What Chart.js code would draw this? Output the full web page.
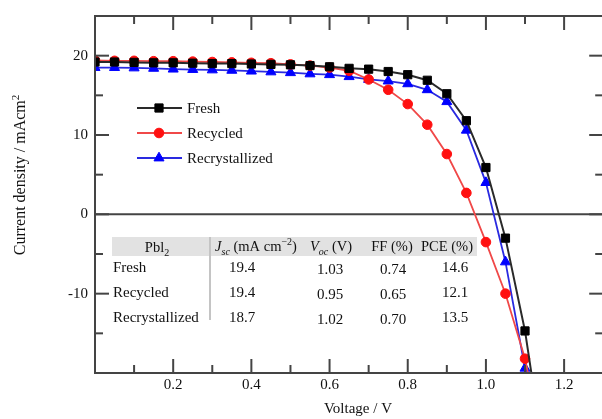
<!DOCTYPE html>
<html lang="en">
<head>
<meta charset="UTF-8">
<title>J-V curves</title>
<script src="https://cdn.jsdelivr.net/npm/chart.js"></script>
<style>
  body { margin: 0; overflow: hidden; background: #fff; }
</style>
</head>
<body>
<canvas id="jv" width="610" height="419"></canvas>
<script>
// voltage steps (V) and current density (mA cm-2)
const voltage = [0, 0.05, 0.1, 0.15, 0.2, 0.25, 0.3, 0.35, 0.4, 0.45, 0.5, 0.55,
                 0.6, 0.65, 0.7, 0.75, 0.8, 0.85, 0.9, 0.95, 1.0, 1.05, 1.1, 1.15];
const fresh = [19.2, 19.2, 19.15, 19.1, 19.1, 19.05, 19.0, 19.0, 18.95, 18.9, 18.85, 18.75,
               18.6, 18.4, 18.3, 18.0, 17.6, 16.9, 15.2, 11.8, 5.9, -3.0, -14.7, -31];
const recycled = [19.4, 19.35, 19.35, 19.3, 19.3, 19.25, 19.2, 19.15, 19.1, 19.05, 18.9, 18.75,
                  18.5, 18.1, 17.0, 15.7, 13.9, 11.3, 7.6, 2.7, -3.5, -10.0, -18.2, -30];
const recrystallized = [18.5, 18.5, 18.45, 18.4, 18.3, 18.25, 18.2, 18.15, 18.05, 17.95, 17.85, 17.7,
                        17.6, 17.35, 17.0, 16.8, 16.45, 15.7, 14.2, 10.6, 4.0, -6.0, -19.4, -33];

const xTickLabels = ['0.2', '0.4', '0.6', '0.8', '1.0', '1.2'];
const yTickLabels = ['20', '10', '0', '-10'];

// inset table
const samples = ['Fresh', 'Recycled', 'Recrystallized'];
const jsc = ['19.4', '19.4', '18.7'];
const voc = ['1.03', '0.95', '1.02'];
const ff = ['0.74', '0.65', '0.70'];
const pce = ['14.6', '12.1', '13.5'];

const SERIF = '"Liberation Serif", "Times New Roman", serif';

const styles = [
  { color: '#000000', line: '#2a2a2a', shape: 'rect', r: 5.8, w: 2 },
  { color: '#ff1010', line: '#f04848', shape: 'circle', r: 4.8, w: 1.8 },
  { color: '#0000ff', line: '#2a2ae0', shape: 'triangle', r: 5.8, w: 1.8 }
];
const names = ['Fresh', 'Recycled', 'Recrystallized'];
const values = [fresh, recycled, recrystallized];

const datasets = values.map((arr, k) => ({
  label: names[k],
  data: voltage.map((v, i) => ({ x: v, y: arr[i] })),
  borderColor: styles[k].line,
  borderWidth: styles[k].w,
  backgroundColor: styles[k].color,
  pointBackgroundColor: styles[k].color,
  pointBorderColor: styles[k].color,
  pointBorderWidth: 1,
  pointStyle: styles[k].shape,
  pointRadius: styles[k].r,
  tension: 0
}));

function seg(ctx, x1, y1, x2, y2) {
  ctx.beginPath(); ctx.moveTo(x1, y1); ctx.lineTo(x2, y2); ctx.stroke();
}

// draw a run of text pieces: {t, it, sub, sup}
function rich(ctx, parts, x, y, size, align) {
  const fontOf = p => (p.it ? 'italic ' : '') + (p.sub || p.sup ? Math.round(size * 0.7) : size) + 'px ' + SERIF;
  let total = 0;
  parts.forEach(p => { ctx.font = fontOf(p); total += ctx.measureText(p.t).width; });
  let cx = align === 'center' ? x - total / 2 : x;
  ctx.textAlign = 'left';
  ctx.textBaseline = 'alphabetic';
  parts.forEach(p => {
    ctx.font = fontOf(p);
    const dy = p.sub ? size * 0.25 : p.sup ? -size * 0.4 : 0;
    ctx.fillText(p.t, cx, y + dy);
    cx += ctx.measureText(p.t).width;
  });
}

const zeroLine = {
  id: 'zeroLine',
  beforeDatasetsDraw(chart) {
    const { ctx, chartArea: a, scales: { y } } = chart;
    const py = y.getPixelForValue(0);
    ctx.save();
    ctx.strokeStyle = '#444';
    ctx.lineWidth = 2;
    seg(ctx, a.left, py, a.right, py);
    ctx.restore();
  }
};

const frameAndExtras = {
  id: 'frameAndExtras',
  afterDraw(chart) {
    const { ctx, chartArea: a, scales: { x, y } } = chart;
    ctx.save();
    ctx.strokeStyle = '#444';
    ctx.lineWidth = 2;
    ctx.strokeRect(a.left, a.top, a.right - a.left, a.bottom - a.top);
    x.ticks.forEach(t => {
      const n = Math.round(t.value * 10);
      if (n <= 0 || n >= 13) return;
      const px = x.getPixelForValue(t.value);
      const len = n % 2 === 0 ? 14 : 8;
      seg(ctx, px, a.bottom, px, a.bottom - len);
      seg(ctx, px, a.top, px, a.top + len);
    });
    y.ticks.forEach(t => {
      if (t.value <= y.min || t.value >= y.max) return;
      const py = y.getPixelForValue(t.value);
      const len = t.value % 10 === 0 ? 14 : 8;
      seg(ctx, a.left, py, a.left + len, py);
      seg(ctx, a.right, py, a.right - len, py);
    });

    // axis titles
    ctx.fillStyle = '#111';
    rich(ctx, [{ t: 'Voltage / V' }], 358, 413, 15, 'center');
    ctx.save();
    ctx.translate(25, 175);
    ctx.rotate(-Math.PI / 2);
    rich(ctx, [{ t: 'Current density / mAcm' }, { t: '2', sup: true }], 0, 0, 16, 'center');
    ctx.restore();

    // legend
    chart.data.datasets.forEach((ds, k) => {
      const ly = 108 + k * 25;
      ctx.strokeStyle = ds.borderColor;
      ctx.lineWidth = ds.borderWidth;
      seg(ctx, 137, ly, 182, ly);
      ctx.fillStyle = ds.pointBackgroundColor;
      ctx.strokeStyle = ds.pointBorderColor;
      ctx.lineWidth = 1;
      Chart.helpers.drawPoint(ctx, { pointStyle: ds.pointStyle, radius: ds.pointRadius, borderWidth: 1, rotation: 0 }, 159, ly);
      ctx.fillStyle = '#111';
      ctx.font = '15px ' + SERIF;
      ctx.textAlign = 'left';
      ctx.textBaseline = 'middle';
      ctx.fillText(ds.label, 187, ly + 1);
    });

    // inset table
    ctx.fillStyle = '#e2e2e2';
    ctx.fillRect(112, 237, 365, 19);
    ctx.strokeStyle = '#c4c4c4';
    ctx.lineWidth = 2;
    seg(ctx, 210, 237, 210, 320);
    ctx.fillStyle = '#111';
    rich(ctx, [{ t: 'Pbl' }, { t: '2', sub: true }], 157, 252, 14.5, 'center');
    rich(ctx, [{ t: 'J', it: true }, { t: 'sc', it: true, sub: true }, { t: ' (mA cm' }, { t: '\u22122', sup: true }, { t: ')' }], 256, 251, 14.5, 'center');
    rich(ctx, [{ t: 'V', it: true }, { t: 'oc', it: true, sub: true }, { t: ' (V)' }], 331, 251, 14.5, 'center');
    rich(ctx, [{ t: 'FF (%)' }], 392, 251, 14.5, 'center');
    rich(ctx, [{ t: 'PCE (%)' }], 447, 251, 14.5, 'center');
    samples.forEach((s, i) => {
      const ry = 272 + i * 25;
      rich(ctx, [{ t: s }], 113, ry, 15, 'left');
      rich(ctx, [{ t: jsc[i] }], 242, ry, 15, 'center');
      rich(ctx, [{ t: voc[i] }], 330, ry + 2, 15, 'center');
      rich(ctx, [{ t: ff[i] }], 393, ry + 2, 15, 'center');
      rich(ctx, [{ t: pce[i] }], 455, ry, 15, 'center');
    });
    ctx.restore();
  }
};

new Chart(document.getElementById('jv').getContext('2d'), {
  type: 'line',
  data: { datasets },
  options: {
    responsive: false,
    animation: false,
    layout: { padding: { top: 15, right: 3, left: 0, bottom: 0 } },
    plugins: { legend: { display: false }, tooltip: { enabled: false } },
    scales: {
      x: {
        type: 'linear',
        min: 0,
        max: 1.3,
        grid: { display: false, drawTicks: false },
        border: { display: false },
        afterFit: s => { s.height = 46; },
        ticks: {
          stepSize: 0.1,
          autoSkip: false,
          maxRotation: 0,
          padding: 3,
          color: '#111',
          font: { family: SERIF, size: 15 },
          callback: v => {
            const l = v.toFixed(1);
            return xTickLabels.includes(l) ? l : '';
          }
        }
      },
      y: {
        min: -20,
        max: 25,
        grid: { display: false, drawTicks: false },
        border: { display: false },
        afterFit: s => { s.width = 95; },
        ticks: {
          stepSize: 5,
          autoSkip: false,
          padding: 7,
          color: '#111',
          font: { family: SERIF, size: 15 },
          callback: v => yTickLabels.includes(String(v)) ? String(v) : ''
        }
      }
    }
  },
  plugins: [zeroLine, frameAndExtras]
});
</script>
</body>
</html>
